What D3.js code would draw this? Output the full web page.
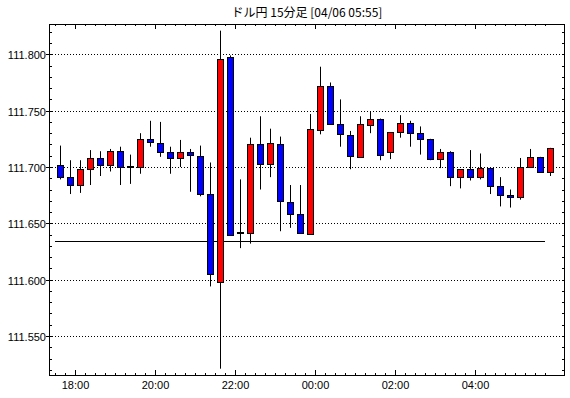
<!DOCTYPE html>
<html>
<head>
<meta charset="utf-8">
<script src="https://cdn.jsdelivr.net/npm/d3@7"></script>
<style>
  body { margin: 0; background: #fff; }
  text { font-family: "Liberation Sans", Arial, sans-serif; }
</style>
</head>
<body>
<div id="chart"></div>
<script>
var width = 570, height = 398;

// 15 minute candles, 17:30 .. 05:45
var open  = [111.702,111.691,111.684,111.698,111.708,111.702,111.714,111.701,111.700,111.725,
             111.721,111.713,111.708,111.713,111.710,111.676,111.598,111.798,111.641,111.641,
             111.720,111.702,111.720,111.669,111.658,111.641,111.733,111.772,111.738,111.728,
             111.709,111.738,111.743,111.713,111.731,111.739,111.730,111.725,111.707,111.713,
             111.691,111.698,111.691,111.699,111.683,111.675,111.673,111.700,111.709,111.696];
var high  = [111.719,111.706,111.706,111.715,111.714,111.716,111.718,111.711,111.730,111.741,
             111.740,111.718,111.724,111.716,111.719,111.704,111.821,111.799,111.689,111.726,
             111.745,111.734,111.727,111.684,111.684,111.747,111.789,111.775,111.760,111.732,
             111.745,111.749,111.743,111.731,111.746,111.741,111.736,111.725,111.716,111.714,
             111.698,111.715,111.712,111.699,111.691,111.680,111.708,111.716,111.709,111.717];
var low   = [111.689,111.676,111.677,111.684,111.692,111.696,111.684,111.685,111.694,111.718,
             111.709,111.694,111.700,111.678,111.674,111.594,111.521,111.640,111.628,111.632,
             111.680,111.691,111.643,111.646,111.641,111.641,111.729,111.738,111.718,111.698,
             111.709,111.730,111.706,111.707,111.726,111.718,111.711,111.706,111.699,111.683,
             111.681,111.688,111.689,111.676,111.665,111.664,111.671,111.700,111.695,111.692];
var close = [111.691,111.684,111.698,111.708,111.702,111.714,111.700,111.700,111.725,111.722,
             111.713,111.708,111.713,111.710,111.676,111.605,111.796,111.640,111.642,111.720,
             111.702,111.721,111.669,111.658,111.641,111.734,111.772,111.738,111.729,111.709,
             111.738,111.743,111.711,111.731,111.739,111.730,111.725,111.707,111.713,111.691,
             111.698,111.691,111.699,111.683,111.675,111.673,111.700,111.709,111.696,111.717];
var refLine = 111.634;
var yLabels = [111.550, 111.600, 111.650, 111.700, 111.750, 111.800];
var xLabels = ["18:00", "20:00", "22:00", "00:00", "02:00", "04:00"];
var title = "ドル円 15分足 [04/06 05:55]";

var t0 = new Date(2018, 3, 5, 17, 30);
var candles = open.map(function (o, i) {
  return { t: d3.timeMinute.offset(t0, 15 * i), o: o, h: high[i], l: low[i], c: close[i] };
});
var tLast = candles[candles.length - 1].t;

var pL = 49, pR = 565, pT = 24, pB = 375;

var x = d3.scaleTime()
  .domain([new Date(2018, 3, 5, 17, 21), new Date(2018, 3, 6, 6, 15)])
  .range([pL, pR]);
var y = d3.scaleLinear()
  .domain([111.5154, 111.8269])
  .range([pB, pT]);
var fmt = d3.timeFormat("%H:%M");

var svg = d3.select("#chart").append("svg")
  .attr("width", width).attr("height", height);

svg.append("text")
  .attr("x", (pL + pR) / 2).attr("y", 17)
  .attr("text-anchor", "middle")
  .style("font-family", "'Noto Sans CJK JP', sans-serif")
  .style("font-size", "12px")
  .text(title);

// grid
svg.append("g").selectAll("line")
  .data(yLabels).enter().append("line")
  .attr("x1", pL).attr("x2", pR)
  .attr("y1", function (d) { return Math.round(y(d)) + 0.5; })
  .attr("y2", function (d) { return Math.round(y(d)) + 0.5; })
  .attr("stroke", "#000").attr("stroke-dasharray", "1,2");

// y ticks
var yMinor = d3.range(111.52, 111.825, 0.01);
var yt = svg.append("g");
yMinor.forEach(function (v) {
  var yy = Math.round(y(v)) + 0.5;
  yt.append("line").attr("x1", pL).attr("x2", pL + 3).attr("y1", yy).attr("y2", yy).attr("stroke", "#000");
  yt.append("line").attr("x1", pR - 3).attr("x2", pR).attr("y1", yy).attr("y2", yy).attr("stroke", "#000");
});
yLabels.forEach(function (v) {
  var yy = Math.round(y(v)) + 0.5;
  yt.append("line").attr("x1", pL - 3).attr("x2", pL).attr("y1", yy).attr("y2", yy).attr("stroke", "#000");
  yt.append("text").attr("x", pL - 3).attr("y", yy + 4)
    .attr("text-anchor", "end").style("font-size", "11px")
    .text(v.toFixed(3));
});

// x ticks, every 15 minutes up to the last candle
var xt = svg.append("g");
d3.timeMinute.every(15).range(t0, d3.timeMinute.offset(tLast, 1)).forEach(function (t) {
  var xx = Math.round(x(t)) + 0.5;
  var major = t.getMinutes() === 0 && t.getHours() % 2 === 0;
  var len = major ? 5 : 2;
  xt.append("line").attr("x1", xx).attr("x2", xx).attr("y1", pB - len).attr("y2", pB).attr("stroke", "#000");
  xt.append("line").attr("x1", xx).attr("x2", xx).attr("y1", pT).attr("y2", pT + len).attr("stroke", "#000");
  if (major && xLabels.indexOf(fmt(t)) >= 0) {
    xt.append("text").attr("x", xx).attr("y", 389)
      .attr("text-anchor", "middle").style("font-size", "11px")
      .text(fmt(t));
  }
});

// reference line
svg.append("line")
  .attr("x1", x(t0)).attr("x2", x(tLast))
  .attr("y1", Math.round(y(refLine)) + 0.5).attr("y2", Math.round(y(refLine)) + 0.5)
  .attr("stroke", "#000");

// candles
var cx = function (d) { return Math.round(x(d3.timeSecond.offset(d.t, 450))); };
var g = svg.append("g");
g.selectAll("line.wick")
  .data(candles).enter().append("line")
  .attr("class", "wick")
  .attr("x1", function (d) { return cx(d) + 0.5; })
  .attr("x2", function (d) { return cx(d) + 0.5; })
  .attr("y1", function (d) { return y(d.h); })
  .attr("y2", function (d) { return y(d.l); })
  .attr("stroke", "#000");
g.selectAll("rect")
  .data(candles).enter().append("rect")
  .attr("x", function (d) { return cx(d) - 2.5; })
  .attr("width", 6)
  .attr("y", function (d) { return Math.round(y(Math.max(d.o, d.c))) + 0.5; })
  .attr("height", function (d) { return Math.max(1, Math.round(Math.abs(y(d.o) - y(d.c)))); })
  .attr("fill", function (d) { return d.c >= d.o ? "#ff0000" : "#0000ff"; })
  .attr("stroke", "#000");

// frame
svg.append("rect")
  .attr("x", pL + 0.5).attr("y", pT + 0.5)
  .attr("width", pR - pL - 1).attr("height", pB - pT)
  .attr("fill", "none").attr("stroke", "#000");
</script>
</body>
</html>
